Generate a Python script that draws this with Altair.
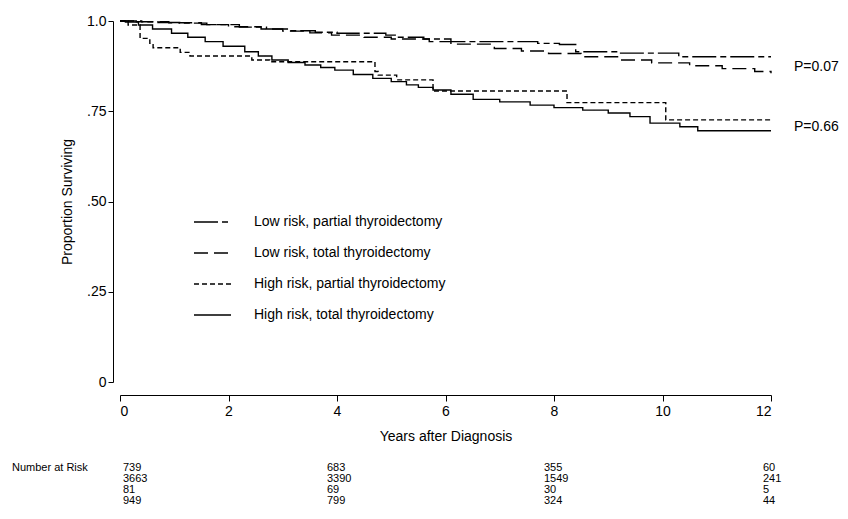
import altair as alt
import pandas as pd

# ---------------- data ----------------
series_names = [
    "Low risk, partial thyroidectomy",
    "Low risk, total thyroidectomy",
    "High risk, partial thyroidectomy",
    "High risk, total thyroidectomy",
]

lp_t = [0, 0.3, 0.7, 1.1, 1.6, 2.2, 2.7, 3.1, 3.6, 4.0, 4.9, 5.1, 5.6, 6.1, 7.7, 8.1, 8.4, 9.2, 10.3, 12]
lp_s = [1.0, 0.998, 0.996, 0.994, 0.990, 0.983, 0.978, 0.973, 0.969, 0.966, 0.961, 0.955, 0.950, 0.943,
        0.938, 0.935, 0.915, 0.911, 0.901, 0.901]

lt_t = [0, 0.4, 0.9, 1.5, 2.0, 2.6, 3.0, 3.5, 3.9, 4.5, 5.0, 5.7, 6.1, 6.9, 7.4, 7.9, 8.5, 9.2, 9.8,
        10.5, 11.1, 11.7, 12]
lt_s = [1.0, 0.998, 0.995, 0.990, 0.984, 0.978, 0.972, 0.967, 0.961, 0.955, 0.950, 0.943, 0.936, 0.924,
        0.917, 0.910, 0.901, 0.892, 0.884, 0.876, 0.868, 0.860, 0.855]

hp_t = [0, 0.15, 0.37, 0.55, 0.61, 1.11, 1.29, 2.43, 2.76, 4.70, 4.76, 5.10, 5.77, 8.24, 10.06, 12]
hp_s = [1.0, 0.989, 0.952, 0.938, 0.926, 0.913, 0.903, 0.892, 0.887, 0.860, 0.850, 0.837, 0.806,
        0.774, 0.726, 0.726]

ht_t = [0, 0.1, 0.34, 0.6, 0.95, 1.25, 1.57, 1.9, 2.3, 2.55, 2.8, 3.1, 3.41, 3.7, 3.96, 4.3, 4.66,
        5.0, 5.28, 5.5, 5.77, 6.1, 6.51, 7.0, 7.56, 8.0, 8.53, 9.0, 9.4, 9.77, 10.32, 10.65, 12]
ht_s = [1.0, 0.997, 0.989, 0.978, 0.966, 0.955, 0.943, 0.930, 0.915, 0.903, 0.892, 0.885, 0.878,
        0.871, 0.864, 0.852, 0.841, 0.832, 0.823, 0.816, 0.809, 0.797, 0.783, 0.776, 0.767, 0.760,
        0.753, 0.745, 0.735, 0.717, 0.707, 0.696, 0.696]

p_labels = ["P=0.07", "P=0.66"]
p_pos = [0.873, 0.706]

risk_times = [0, 4, 8, 12]
risk_counts = [
    [739, 683, 355, 60],
    [3663, 3390, 1549, 241],
    [81, 69, 30, 5],
    [949, 799, 324, 44],
]

x_ticks = [0, 2, 4, 6, 8, 10, 12]
y_ticks = [0, 0.25, 0.5, 0.75, 1.0]

# ---------------- build ----------------
rows = []
for name, ts, ss in zip(series_names, [lp_t, lt_t, hp_t, ht_t], [lp_s, lt_s, hp_s, ht_s]):
    for t, s in zip(ts, ss):
        rows.append({"series": name, "t": t, "s": s})
df = pd.DataFrame(rows)

FONT = "Liberation Sans"
dash_scale = alt.Scale(domain=series_names, range=[[24, 4, 6, 4], [14, 6], [5, 3], [1, 0]])
x_scale = alt.Scale(domain=[0, 12], nice=False, zero=False)
y_scale = alt.Scale(domain=[0, 1], nice=False)

lines = alt.Chart(df).mark_line(interpolate="step-after", color="black", strokeWidth=1.4).encode(
    x=alt.X("t:Q", scale=x_scale,
            axis=alt.Axis(values=x_ticks, title="Years after Diagnosis", offset=13, grid=False,
                          tickSize=6, labelPadding=3, titlePadding=11, labelFontSize=14,
                          titleFontSize=14, format="d")),
    y=alt.Y("s:Q", scale=y_scale,
            axis=alt.Axis(values=y_ticks, title="Proportion Surviving", offset=7, grid=False,
                          tickSize=5, labelPadding=2, titlePadding=12, labelFontSize=14,
                          titleFontSize=14,
                          labelExpr="datum.value == 1 ? '1.0' : datum.value == 0 ? '0' : replace(format(datum.value, '.2f'), '0.', '.')")),
    strokeDash=alt.StrokeDash("series:N", scale=dash_scale, legend=None),
    detail="series:N",
)

layers = [lines]

# manual legend
leg_y = [201, 232, 263, 294]
for i, name in enumerate(series_names):
    d = pd.DataFrame({"series": [name]})
    layers.append(
        alt.Chart(d).mark_rule(color="black", strokeWidth=1.3).encode(
            x=alt.value(74), x2=alt.value(111), y=alt.value(leg_y[i]),
            strokeDash=alt.StrokeDash("series:N", scale=dash_scale, legend=None),
        )
    )
    layers.append(
        alt.Chart(d).mark_text(align="left", baseline="middle", fontSize=14, font=FONT, color="black").encode(
            x=alt.value(134), y=alt.value(leg_y[i]), text="series:N"
        )
    )

# p-values
pdf = pd.DataFrame({"label": p_labels, "s": p_pos, "t": [12, 12]})
layers.append(
    alt.Chart(pdf).mark_text(align="left", baseline="middle", dx=23, fontSize=14, font=FONT, color="black").encode(
        x=alt.X("t:Q", scale=x_scale), y=alt.Y("s:Q", scale=y_scale), text="label:N"
    )
)

# number at risk table
row_y = [447, 458, 469, 480]
col_dx = [3, -10, -10, -8]
layers.append(
    alt.Chart(pd.DataFrame({"lab": ["Number at Risk"]})).mark_text(
        align="left", baseline="middle", fontSize=11, font=FONT, color="black").encode(
        x=alt.value(-108), y=alt.value(row_y[0]), text="lab:N")
)
for r, counts in enumerate(risk_counts):
    for c, (t, n) in enumerate(zip(risk_times, counts)):
        d = pd.DataFrame({"t": [t], "n": [str(n)]})
        layers.append(
            alt.Chart(d).mark_text(align="left", baseline="middle", dx=col_dx[c], fontSize=11,
                                   font=FONT, color="black").encode(
                x=alt.X("t:Q", scale=x_scale), y=alt.value(row_y[r]), text="n:N")
        )

chart = alt.layer(*layers).properties(
    width=651, height=361,
    autosize=alt.AutoSizeParams(type="none"),
    padding={"left": 112, "top": 13, "right": 69, "bottom": 129},
    background="white",
).configure_view(stroke=None).configure_axis(
    domainColor="black", tickColor="black", labelColor="black", titleColor="black",
    labelFont=FONT, titleFont=FONT, titleFontWeight="normal", domainWidth=1, tickWidth=1,
)

chart.save("out.html", embed_options={"renderer": "svg", "actions": False})
